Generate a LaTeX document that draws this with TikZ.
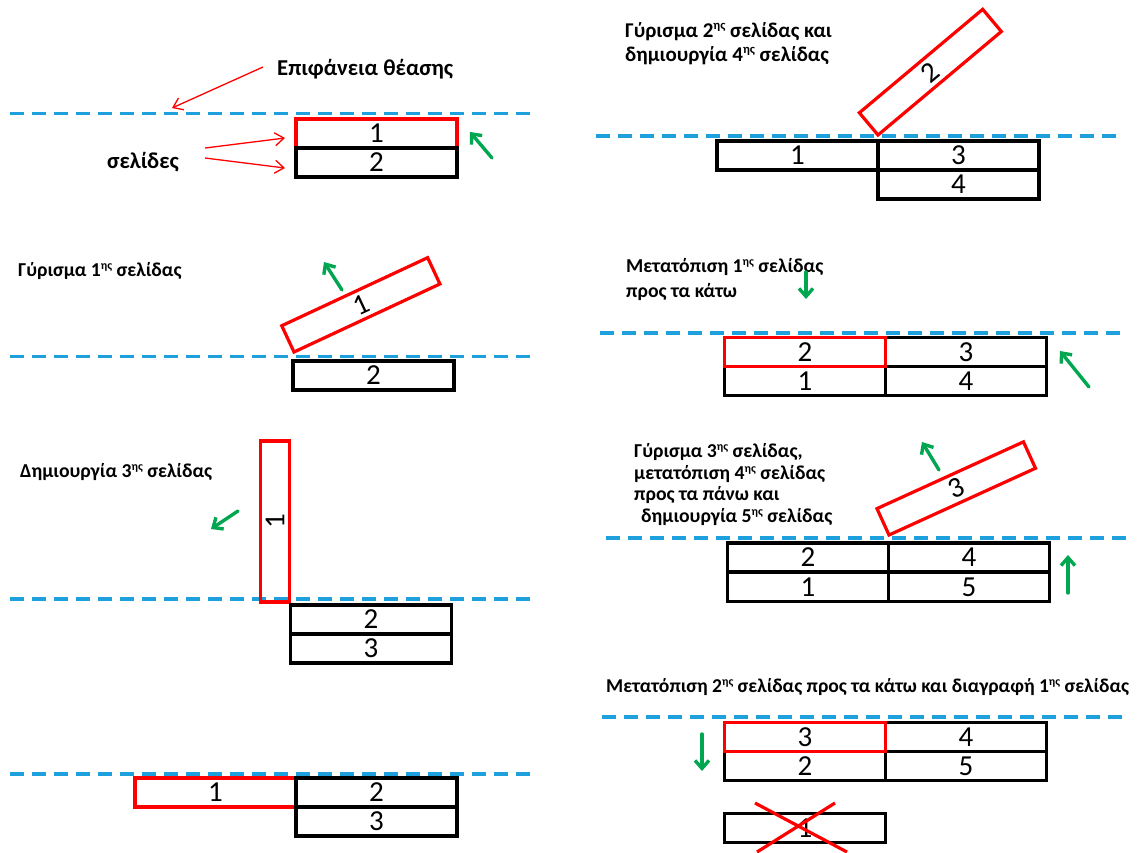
\documentclass[tikz,border=0pt]{standalone}
\usepackage{fontspec}
\setmainfont{Carlito}
\usetikzlibrary{arrows.meta}

\definecolor{viewblue}{RGB}{30,160,220}
\definecolor{movegreen}{RGB}{0,166,80}
\definecolor{pagered}{RGB}{255,0,0}

% small raised ordinal ending, e.g. 1^{ης}
\newcommand{\ordend}[1]{\raisebox{0.72ex}{\scalebox{0.6}{#1}}}

\tikzset{
  pagebox/.style={draw=black, line width=3.2pt, minimum width=161pt, minimum height=29pt,
    inner sep=0pt, outer sep=0pt, font=\fontsize{29}{29}\selectfont},
  activepage/.style={pagebox, draw=pagered},
  viewline/.style={viewblue, line width=3.2pt, dash pattern=on 14pt off 8pt},
  movearrow/.style={movegreen, line width=3.4pt, line cap=round, -{Straight Barb[length=8pt,width=14pt]}},
  callout/.style={pagered, line width=1.3pt, -{Straight Barb[length=9pt,width=13pt]}},
  caption/.style={anchor=base west, inner sep=0pt, font=\bfseries\fontsize{19.7}{23}\selectfont},
  bigcaption/.style={caption, font=\bfseries\fontsize{22.7}{26}\selectfont},
  crossout/.style={pagered, line width=3.2pt},
}

\begin{document}
\begin{tikzpicture}[x=1pt, y=-1pt]
\useasboundingbox (0,0) rectangle (1141,852);

% ---------- step 1: the viewing surface and two pages ----------
\draw[viewline] (10,113.5) -- (532,113.5);
\node[activepage, anchor=north west] (s1p1) at (296,119) {1};
\node[pagebox, anchor=north west] (s1p2) at (296,148) {2};
\node[bigcaption] (surf) at (277,75) {Επιφάνεια θέασης};
\node[bigcaption] (pages) at (107,168) {σελίδες};
\coordinate (surfA) at (263,67);   \coordinate (surfB) at (172,108);
\coordinate (pgA1) at (205,148);   \coordinate (pgB1) at (285,138);
\coordinate (pgA2) at (205,158);   \coordinate (pgB2) at (285,168);
\draw[callout] (surfA) -- (surfB);
\draw[callout] (pgA1) -- (pgB1);
\draw[callout] (pgA2) -- (pgB2);
\coordinate (m1a) at (492,158);    \coordinate (m1b) at (470,132);
\draw[movearrow] (m1a) -- (m1b);

% ---------- step 2: page 1 turns ----------
\node[caption] (cap2) at (18,276) {Γύρισμα 1\ordend{ης} σελίδας};
\draw[viewline] (10,356.5) -- (532,356.5);
\node[pagebox, anchor=north west] (s2p2) at (293,361) {2};
\node[activepage, anchor=south west, rotate=25] (s2p1) at (294,352) {1};
\coordinate (m2a) at (342,290);    \coordinate (m2b) at (324,262);
\draw[movearrow] (m2a) -- (m2b);

% ---------- step 3: page 1 upright, page 3 created ----------
\node[caption] (cap3) at (20,477) {Δημιουργία 3\ordend{ης} σελίδας};
\draw[viewline] (10,599) -- (532,599);
\node[activepage, anchor=south west, rotate=90] (s3p1) at (289.5,602) {1};
\node[pagebox, anchor=north west] (s3p2) at (290.5,605) {2};
\node[pagebox, anchor=north west] (s3p3) at (290.5,634) {3};
\coordinate (m3a) at (238,511);    \coordinate (m3b) at (211,529);
\draw[movearrow] (m3a) -- (m3b);

% ---------- step 4: page 1 laid flat to the left ----------
\draw[viewline] (10,774) -- (532,774);
\node[activepage, anchor=north west] (s4p1) at (135,778) {1};
\node[pagebox, anchor=north west] (s4p2) at (296,778) {2};
\node[pagebox, anchor=north west] (s4p3) at (296,807) {3};

% ---------- step 5: page 2 turns, page 4 created ----------
\node[caption, font=\bfseries\fontsize{21}{25}\selectfont] (cap5a) at (625,37) {Γύρισμα 2\ordend{ης} σελίδας και};
\node[caption, font=\bfseries\fontsize{21}{25}\selectfont] (cap5b) at (625,61) {δημιουργία 4\ordend{ης} σελίδας};
\draw[viewline] (596,136) -- (1118,136);
\node[pagebox, anchor=north west] (s5p1) at (717,141) {1};
\node[pagebox, anchor=north west] (s5p3) at (878,141) {3};
\node[pagebox, anchor=north west] (s5p4) at (878,170) {4};
\node[activepage, anchor=south west, rotate=40] (s5p2) at (878,135) {2};

% ---------- step 6: page 1 moves down ----------
\node[caption] (cap6a) at (626,272) {Μετατόπιση 1\ordend{ης} σελίδας};
\node[caption] (cap6b) at (626,297) {προς τα κάτω};
\draw[viewline] (600,333) -- (1122,333);
\node[pagebox, anchor=north west] (s6p3) at (885.5,337.5) {3};
\node[pagebox, anchor=north west] (s6p1) at (724.5,366.5) {1};
\node[pagebox, anchor=north west] (s6p4) at (885.5,366.5) {4};
\node[activepage, anchor=north west] (s6p2) at (724.5,337.5) {2};
\coordinate (m6a) at (806,272);    \coordinate (m6b) at (806,299);
\coordinate (m6c) at (1089,387);   \coordinate (m6d) at (1060,351);
\draw[movearrow] (m6a) -- (m6b);
\draw[movearrow] (m6c) -- (m6d);

% ---------- step 7: page 3 turns, page 4 up, page 5 created ----------
\node[caption] (cap7a) at (634,457) {Γύρισμα 3\ordend{ης} σελίδας,};
\node[caption] (cap7b) at (634,479) {μετατόπιση 4\ordend{ης} σελίδας};
\node[caption] (cap7c) at (634,500) {προς τα πάνω και};
\node[caption] (cap7d) at (641,522) {δημιουργία 5\ordend{ης} σελίδας};
\draw[viewline] (606,538) -- (1128,538);
\node[pagebox, anchor=north west] (s7p2) at (727.5,543) {2};
\node[pagebox, anchor=north west] (s7p4) at (888.5,543) {4};
\node[pagebox, anchor=north west] (s7p1) at (727.5,572.5) {1};
\node[pagebox, anchor=north west] (s7p5) at (888.5,572.5) {5};
\node[activepage, anchor=south west, rotate=24.5] (s7p3) at (889,535) {3};
\coordinate (m7a) at (939,470);    \coordinate (m7b) at (922,442);
\coordinate (m7c) at (1068,593);   \coordinate (m7d) at (1068,555);
\draw[movearrow] (m7a) -- (m7b);
\draw[movearrow] (m7c) -- (m7d);

% ---------- step 8: page 2 moves down, page 1 deleted ----------
\node[caption, font=\bfseries\fontsize{19.6}{23}\selectfont] (cap8) at (606,692) {Μετατόπιση 2\ordend{ης} σελίδας προς τα κάτω και διαγραφή 1\ordend{ης} σελίδας};
\draw[viewline] (602,717) -- (1127,717);
\node[pagebox, anchor=north west] (s8p4) at (885.5,722.5) {4};
\node[pagebox, anchor=north west] (s8p2) at (724.5,751.5) {2};
\node[pagebox, anchor=north west] (s8p5) at (885.5,751.5) {5};
\node[activepage, anchor=north west] (s8p3) at (724.5,722.5) {3};
\coordinate (m8a) at (702,734);    \coordinate (m8b) at (702,771);
\draw[movearrow] (m8a) -- (m8b);
\node[pagebox, anchor=north west] (s8p1) at (724.5,813.5) {1};
\coordinate (xa1) at (755,803);    \coordinate (xa2) at (847,852);
\coordinate (xb1) at (835,803);    \coordinate (xb2) at (757,852);
\draw[crossout] (xa1) -- (xa2);
\draw[crossout] (xb1) -- (xb2);
\end{tikzpicture}
\end{document}
